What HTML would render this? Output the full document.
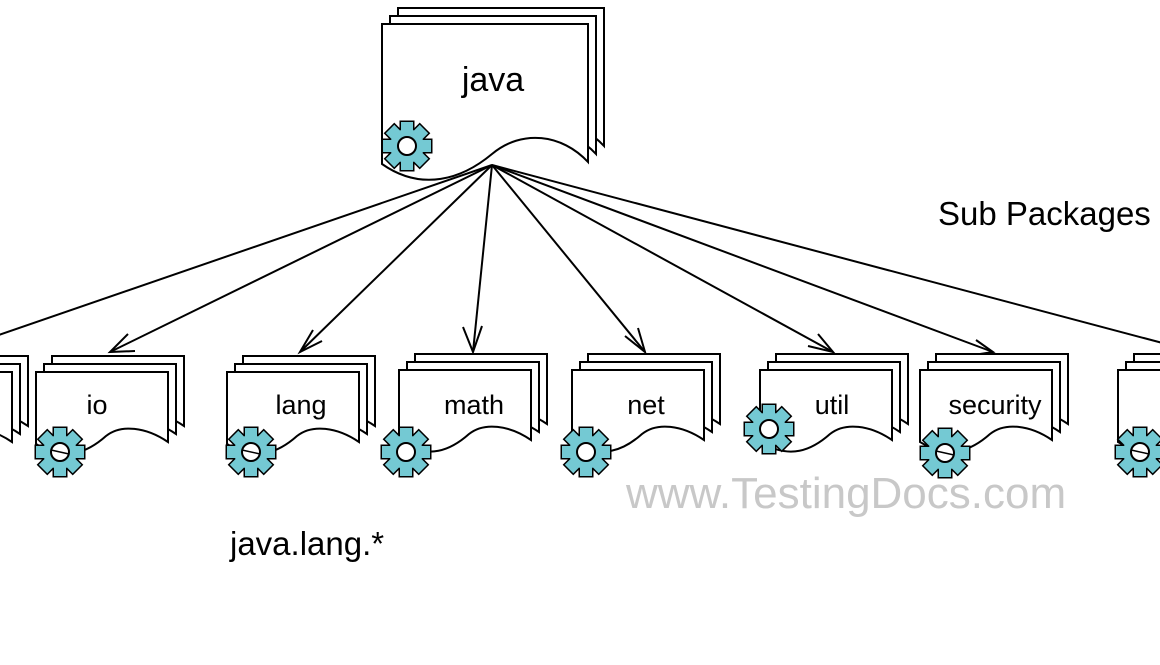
<!DOCTYPE html>
<html><head><meta charset="utf-8"><style>
html,body{margin:0;padding:0;background:#fff;}
svg{display:block;}
text{font-family:"Liberation Sans",Arial,sans-serif;}
</style></head><body>
<svg width="1160" height="665" viewBox="0 0 1160 665" xmlns="http://www.w3.org/2000/svg">
<defs>
  <g id="gshape">
    <circle cx="0" cy="0" r="17"/>
    <rect x="-6" y="-24" width="12" height="48"/>
    <rect x="-6" y="-24" width="12" height="48" transform="rotate(45)"/>
    <rect x="-6" y="-24" width="12" height="48" transform="rotate(90)"/>
    <rect x="-6" y="-24" width="12" height="48" transform="rotate(135)"/>
  </g>
  <g id="gear">
    <use href="#gshape" fill="#000" stroke="#000" stroke-width="3"/>
    <use href="#gshape" fill="#74c9d3" stroke="none"/>
    <circle cx="0" cy="0" r="9" fill="#fff" stroke="#000" stroke-width="2"/>
  </g>
  <g id="gear2">
    <use href="#gear"/>
    <line x1="-9" y1="-2" x2="9" y2="2" stroke="#000" stroke-width="1.5"/>
  </g>
  <path id="dshape" d="M0,0 H132 V70 C110,55 85,52 70,64 C52,80 30,90 0,72 Z"/>
  <g id="doc" fill="#fff" stroke="#000" stroke-width="2">
    <use href="#dshape" transform="translate(16,-16)"/>
    <use href="#dshape" transform="translate(8,-8)"/>
    <use href="#dshape"/>
  </g>
  <path id="bshape" d="M0,0 H206 V138 C180,110 140,105 110,130 C80,155 40,168 0,140 Z"/>
</defs>

<g fill="#fff" stroke="#000" stroke-width="2">
  <use href="#bshape" transform="translate(398,8)"/>
  <use href="#bshape" transform="translate(390,16)"/>
  <use href="#bshape" transform="translate(382,24)"/>
</g>
<text x="493" y="91" font-size="34" text-anchor="middle">java</text>
<use href="#gear" transform="translate(407,146)"/>

<g stroke="#000" stroke-width="2" fill="none">
  <line x1="492" y1="165" x2="-10" y2="338"/>
  <line x1="492" y1="165" x2="110" y2="352"/>
  <line x1="492" y1="165" x2="300" y2="352"/>
  <line x1="492" y1="165" x2="473" y2="352"/>
  <line x1="492" y1="165" x2="645" y2="352"/>
  <line x1="492" y1="165" x2="833" y2="352"/>
  <line x1="492" y1="165" x2="993" y2="352"/>
  <line x1="492" y1="165" x2="1170" y2="345"/>
  <polyline points="128,334 110,352 135,351"/>
  <polyline points="313,330 300,352 322,341"/>
  <polyline points="463,327 473,352 482,326"/>
  <polyline points="625,336 645,352 638,328"/>
  <polyline points="808,346 833,352 818,334"/>
  <polyline points="967,356 993,352 976,340"/>
</g>

<use href="#doc" transform="translate(-120,372)"/>
<use href="#doc" transform="translate(36,372)"/>
<use href="#doc" transform="translate(227,372)"/>
<use href="#doc" transform="translate(399,370)"/>
<use href="#doc" transform="translate(572,370)"/>
<use href="#doc" transform="translate(760,370)"/>
<use href="#doc" transform="translate(920,370)"/>
<use href="#doc" transform="translate(1118,370)"/>

<g font-size="27" text-anchor="middle">
  <text x="97" y="414">io</text>
  <text x="301" y="414">lang</text>
  <text x="474" y="414">math</text>
  <text x="646" y="414">net</text>
  <text x="832" y="414">util</text>
  <text x="995" y="414">security</text>
</g>

<use href="#gear2" transform="translate(60,452)"/>
<use href="#gear2" transform="translate(251,452)"/>
<use href="#gear" transform="translate(406,452)"/>
<use href="#gear" transform="translate(586,452)"/>
<use href="#gear" transform="translate(769,429)"/>
<use href="#gear2" transform="translate(945,453)"/>
<use href="#gear2" transform="translate(1140,452)"/>

<text x="938" y="225" font-size="33">Sub Packages</text>
<text x="626" y="508" font-size="44" fill="#c8c8c8">www.TestingDocs.com</text>
<text x="230" y="555" font-size="33">java.lang.*</text>
</svg>
</body></html>
